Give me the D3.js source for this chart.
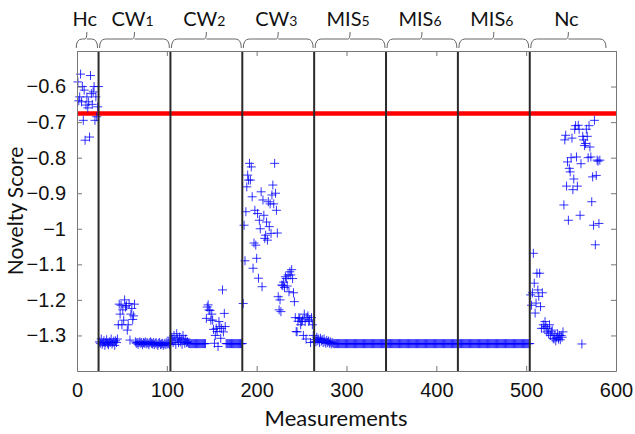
<!DOCTYPE html>
<html>
<head>
<meta charset="utf-8">
<script src="https://cdn.jsdelivr.net/npm/d3@7"></script>
<style>
  body { margin: 0; background: #fff; }
</style>
</head>
<body>
<svg id="chart"></svg>
<script>
const hcVals = [-0.587,-0.64,-0.629,-0.565,-0.643,-0.60,-0.695,-0.61,-0.751,-0.652,-0.629,-0.66,-0.643,-0.742,-0.569,-0.62,-0.65,-0.615,-0.60,-0.695,-0.629,-0.685,-0.657,-0.60];

const cw1Vals = [-1.318,-1.322,-1.31,-1.325,-1.32,-1.315,-1.328,-1.32,-1.312,-1.322,-1.326,-1.318,-1.32,-1.31,-1.324,-1.32,-1.316,-1.328,-1.315,-1.32,-1.31,
  -1.27,-1.212,-1.24,-1.215,-1.27,-1.228,-1.257,-1.2,-1.22,-1.216,-1.285,-1.27,-1.21,-1.313,-1.24,-1.224,-1.255,-1.245,-1.212,
  -1.318,-1.322,-1.32,-1.325,-1.32,-1.318,-1.322,-1.32,-1.326,-1.32,-1.322,-1.318,-1.324,-1.32,-1.322,-1.326,-1.32,-1.318,-1.322,-1.324,
  -1.32,-1.326,-1.322,-1.32,-1.324,-1.328,-1.322,-1.32,-1.326,-1.324,-1.322,-1.328,-1.324,-1.322,-1.326,-1.32,-1.324,-1.322,-1.326,-1.324];

const cw2Vals = [-1.305,-1.31,-1.32,-1.30,-1.315,-1.325,-1.295,-1.31,-1.32,-1.305,-1.318,-1.31,-1.325,-1.30,-1.315,-1.322,-1.31,-1.32,-1.318,-1.322,
  -1.323,-1.323,-1.323,-1.323,-1.323,-1.323,-1.323,-1.323,-1.323,-1.323,-1.323,-1.323,-1.323,-1.323,-1.323,-1.323,-1.323,-1.323,-1.323,
  -1.252,-1.22,-1.214,-1.228,-1.23,-1.257,-1.24,-1.257,-1.283,-1.322,-1.30,-1.28,-1.289,-1.331,-1.261,-1.275,-1.308,-1.28,-1.172,-1.29,-1.238,-1.275,
  -1.323,-1.323,-1.323,-1.323,-1.323,-1.323,-1.323,-1.323,-1.323,-1.323,-1.323,-1.323,-1.323,-1.323,-1.323,-1.323,-1.323,-1.323,-1.323];

const cw3Vals = [-1.21,-0.99,-1.09,-0.952,-0.882,-0.849,-0.863,-0.816,-0.863,-0.826,-0.91,-1.111,-1.04,-0.948,-1.046,-1.083,-0.957,-1.139,-0.976,-1.0,
  -0.896,-1.163,-0.919,-0.962,-1.027,-1.018,-0.981,-1.032,-0.924,-0.994,-0.93,-1.013,-0.905,-0.877,-0.93,-0.816,-0.90,-0.948,-1.012,-1.191,
  -1.228,-1.2,-1.233,-1.158,-1.16,-1.15,-1.165,-1.135,-1.14,-1.161,-1.13,-1.177,-1.121,-1.13,-1.115,-1.14,-1.18,-1.205,-1.25,-1.289,
  -1.29,-1.26,-1.25,-1.252,-1.27,-1.261,-1.256,-1.30,-1.24,-1.261,-1.31,-1.25,-1.245,-1.26,-1.256,-1.32,-1.25,-1.27,-1.30,-1.318];

const mis5Vals = [-1.312,-1.318,-1.305,-1.315,-1.31,-1.32,-1.308,-1.316,-1.312,-1.32,-1.31,-1.318,-1.322,-1.314,-1.32,-1.316,-1.322,-1.318,-1.324,-1.32,-1.322,
  -1.323,-1.323,-1.323,-1.323,-1.323,-1.323,-1.323,-1.323,-1.323,-1.323,-1.323,-1.323,-1.323,-1.323,-1.323,-1.323,-1.323,-1.323,-1.323,-1.323,
  -1.323,-1.323,-1.323,-1.323,-1.323,-1.323,-1.323,-1.323,-1.323,-1.323,-1.323,-1.323,-1.323,-1.323,-1.323,-1.323,-1.323,-1.323,-1.323,-1.323,
  -1.323,-1.323,-1.323,-1.323,-1.323,-1.323,-1.323,-1.323,-1.323,-1.323,-1.323,-1.323,-1.323,-1.323,-1.323,-1.323,-1.323,-1.323,-1.323];

const mis6aVals = [-1.323,-1.323,-1.323,-1.323,-1.323,-1.323,-1.323,-1.323,-1.323,-1.323,-1.323,-1.323,-1.323,-1.323,-1.323,-1.323,-1.323,-1.323,-1.323,-1.323,
  -1.323,-1.323,-1.323,-1.323,-1.323,-1.323,-1.323,-1.323,-1.323,-1.323,-1.323,-1.323,-1.323,-1.323,-1.323,-1.323,-1.323,-1.323,-1.323,-1.323,
  -1.323,-1.323,-1.323,-1.323,-1.323,-1.323,-1.323,-1.323,-1.323,-1.323,-1.323,-1.323,-1.323,-1.323,-1.323,-1.323,-1.323,-1.323,-1.323,-1.323,
  -1.323,-1.323,-1.323,-1.323,-1.323,-1.323,-1.323,-1.323,-1.323,-1.323,-1.323,-1.323,-1.323,-1.323,-1.323,-1.323,-1.323,-1.323,-1.323,-1.323];

const mis6bVals = [-1.323,-1.323,-1.323,-1.323,-1.323,-1.323,-1.323,-1.323,-1.323,-1.323,-1.323,-1.323,-1.323,-1.323,-1.323,-1.323,-1.323,-1.323,-1.323,-1.323,
  -1.323,-1.323,-1.323,-1.323,-1.323,-1.323,-1.323,-1.323,-1.323,-1.323,-1.323,-1.323,-1.323,-1.323,-1.323,-1.323,-1.323,-1.323,-1.323,-1.323,
  -1.323,-1.323,-1.323,-1.323,-1.323,-1.323,-1.323,-1.323,-1.323,-1.323,-1.323,-1.323,-1.323,-1.323,-1.323,-1.323,-1.323,-1.323,-1.323,-1.323,
  -1.323,-1.323,-1.323,-1.323,-1.323,-1.323,-1.323,-1.323,-1.323,-1.323,-1.323,-1.323,-1.323,-1.323,-1.323,-1.323,-1.323,-1.323,-1.323,-1.323];

const ncVals = [-1.186,-1.215,-1.18,-1.069,-1.153,-1.237,-1.209,-1.125,-1.172,-1.19,-1.125,-1.219,-1.28,-1.18,-1.27,-1.28,-1.261,-1.275,-1.29,-1.28,
  -1.295,-1.27,-1.30,-1.29,-1.285,-1.308,-1.31,-1.30,-1.315,-1.305,-1.295,-1.31,-1.30,-1.312,-1.30,-1.305,-1.29,
  -0.933,-0.75,-0.737,-0.88,-0.812,-0.976,-0.83,-0.84,-0.80,-0.745,-0.89,-0.86,-0.72,-0.71,-0.798,-0.88,-0.709,-0.72,-0.962,-0.817,
  -1.324,-0.74,-0.75,-0.766,-0.76,-0.72,-0.74,-0.80,-0.71,-0.77,-0.798,-0.924,-0.854,-0.99,-0.695,-1.045,-0.85,-0.807,-0.81,-0.985,-0.807];

// groups: label, subscript, first measurement, brace end
const groupNames = ["Hc", "CW", "CW", "CW", "MIS", "MIS", "MIS", "Nc"];
const groupSubs = ["", "1", "2", "3", "5", "6", "6", ""];
const groupStarts = [1, 25, 105, 185, 265, 345, 425, 505];
const groupBounds = [[-2, 24], [24, 104], [104, 184], [184, 264], [264, 344], [344, 424], [424, 504], [504, 590]];
const dividers = [24, 104, 184, 264, 344, 424, 504];
const threshold = -0.676;

const xTicks = [0, 100, 200, 300, 400, 500, 600];
const yTicks = [-1.3, -1.2, -1.1, -1, -0.9, -0.8, -0.7, -0.6];

const W = 635, H = 434;
const margin = {top: 51, right: 19, bottom: 63, left: 77};

const svg = d3.select("#chart")
  .attr("width", W)
  .attr("height", H);

const x = d3.scaleLinear().domain([0, 600]).range([margin.left, W - margin.right]);
const y = d3.scaleLinear().domain([-1.4, -0.5]).range([H - margin.bottom, margin.top]);

const allVals = [hcVals, cw1Vals, cw2Vals, cw3Vals, mis5Vals, mis6aVals, mis6bVals, ncVals];
const points = [];
allVals.forEach((vals, g) => {
  vals.forEach((v, i) => points.push({m: groupStarts[g] + i, v: v}));
});

// threshold line
svg.append("line")
  .attr("x1", x(0)).attr("x2", x(600))
  .attr("y1", y(threshold)).attr("y2", y(threshold))
  .attr("stroke", "#ff0000")
  .attr("stroke-width", 4.5);

// markers
svg.append("g")
  .selectAll("path")
  .data(points)
  .enter()
  .append("path")
  .attr("transform", d => `translate(${x(d.m)},${y(d.v)})`)
  .attr("d", "M-4.5,0H4.5M0,-4.5V4.5")
  .attr("stroke", "#0000ff")
  .attr("stroke-opacity", 0.8)
  .attr("stroke-width", 1)
  .attr("fill", "none");

// group dividers
svg.append("g")
  .selectAll("line")
  .data(dividers)
  .enter()
  .append("line")
  .attr("x1", d => x(d)).attr("x2", d => x(d))
  .attr("y1", y(-1.4)).attr("y2", y(-0.5))
  .attr("stroke", "#2a2a2a")
  .attr("stroke-width", 2);

// box and ticks
const tickLen = 5;
const axisCol = "#777";
const xAxisB = d3.axisBottom(x).tickValues(xTicks).tickSizeInner(-tickLen).tickSizeOuter(0).tickPadding(12).tickFormat(d3.format("d"));
const xAxisT = d3.axisTop(x).tickValues(xTicks).tickSizeInner(-tickLen).tickSizeOuter(0).tickFormat("");
const yAxisL = d3.axisLeft(y).tickValues(yTicks).tickSizeInner(-tickLen).tickSizeOuter(0).tickPadding(11).tickFormat(d3.format("~g"));
const yAxisR = d3.axisRight(y).tickValues(yTicks).tickSizeInner(-tickLen).tickSizeOuter(0).tickFormat("");

const gB = svg.append("g").attr("transform", `translate(0,${y(-1.4)})`).call(xAxisB);
const gT = svg.append("g").attr("transform", `translate(0,${y(-0.5)})`).call(xAxisT);
const gL = svg.append("g").attr("transform", `translate(${x(0)},0)`).call(yAxisL);
const gR = svg.append("g").attr("transform", `translate(${x(600)},0)`).call(yAxisR);

[gB, gT, gL, gR].forEach(g => {
  g.selectAll("path.domain").attr("stroke", axisCol);
  g.selectAll(".tick line").attr("stroke", axisCol);
  g.selectAll("text")
    .attr("font-family", "'Liberation Sans', Arial, sans-serif")
    .attr("font-size", "20px")
    .attr("fill", "#111");
});

// axis titles
svg.append("text")
  .text("Measurements")
  .attr("x", 336)
  .attr("y", 426)
  .attr("text-anchor", "middle")
  .attr("font-family", "Lato, sans-serif")
  .attr("font-size", "22px")
  .attr("fill", "#111");

svg.append("text")
  .text("Novelty Score")
  .attr("transform", `translate(23,${(y(-1.4) + y(-0.5)) / 2}) rotate(-90)`)
  .attr("text-anchor", "middle")
  .attr("font-family", "Lato, sans-serif")
  .attr("font-size", "21px")
  .attr("fill", "#111");

// braces with group labels
const braceTop = 39, braceEnd = 48, braceTip = 32;
function bracePath(a, b) {
  const m = (a + b) / 2, r = 6;
  return `M${a},${braceEnd} Q${a},${braceTop} ${a + r},${braceTop} L${m - 2},${braceTop} Q${m},${braceTop} ${m},${braceTip}` +
    ` M${m},${braceTop} L${b - r},${braceTop} Q${b},${braceTop} ${b},${braceEnd}`;
}

const braces = svg.append("g");
groupBounds.forEach((bd, i) => {
  const a = x(bd[0]) + 1, b = x(bd[1]) - 1;
  braces.append("path")
    .attr("d", bracePath(a, b))
    .attr("fill", "none")
    .attr("stroke", "#666")
    .attr("stroke-width", 1);

  const t = braces.append("text")
    .attr("x", (a + b) / 2 - 2)
    .attr("y", 26)
    .attr("text-anchor", "middle")
    .attr("font-family", "Lato, sans-serif")
    .attr("font-size", "20px")
    .attr("fill", "#111");
  t.append("tspan").text(groupNames[i]);
  if (groupSubs[i]) {
    t.append("tspan").text(groupSubs[i]).attr("font-size", "14px");
  }
});
</script>
</body>
</html>
